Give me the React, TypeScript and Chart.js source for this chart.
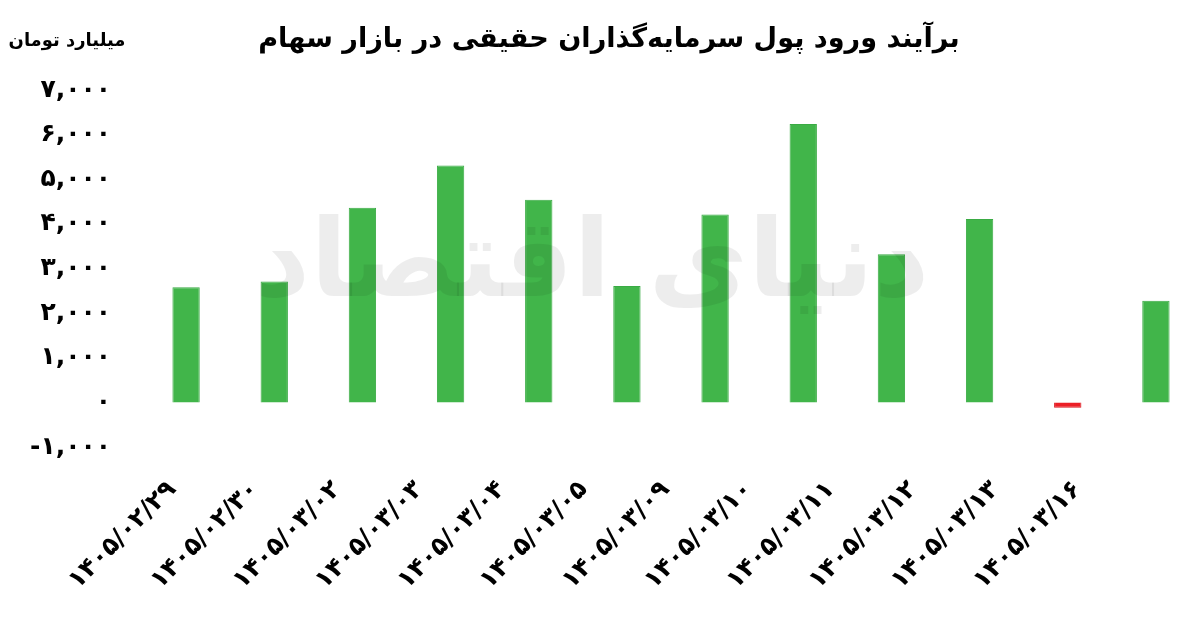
import React, { useEffect, useRef } from "react";
import { Chart, registerables } from "chart.js";

Chart.register(...registerables);

const categories = [
  "۱۴۰۵/۰۲/۲۹",
  "۱۴۰۵/۰۲/۳۰",
  "۱۴۰۵/۰۳/۰۲",
  "۱۴۰۵/۰۳/۰۳",
  "۱۴۰۵/۰۳/۰۴",
  "۱۴۰۵/۰۳/۰۵",
  "۱۴۰۵/۰۳/۰۹",
  "۱۴۰۵/۰۳/۱۰",
  "۱۴۰۵/۰۳/۱۱",
  "۱۴۰۵/۰۳/۱۲",
  "۱۴۰۵/۰۳/۱۳",
  "۱۴۰۵/۰۳/۱۶",
];
const values = [2580, 2710, 4360, 5310, 4540, 2610, 4210, 6240, 3320, 4110, -120, 2280];
const yTicks = [-1000, 0, 1000, 2000, 3000, 4000, 5000, 6000, 7000];

const titleText = "برآیند ورود پول سرمایه‌گذاران حقیقی در بازار سهام";
const unitText = "میلیارد تومان";
const watermarkText = "دنیای اقتصاد";

const FONT = "'DejaVu Sans', sans-serif";
const GREEN = "#41b54a";
const RED = "#ec1f26";

const faDigits = "۰۱۲۳۴۵۶۷۸۹";
function toFa(n: number): string {
  const s = Math.abs(n).toLocaleString("en-US");
  const fa = s.replace(/[0-9]/g, (d) => faDigits[Number(d)]);
  return (n < 0 ? "-" : "") + fa;
}

function fitFont(ctx: CanvasRenderingContext2D, text: string, width: number): number {
  ctx.font = `bold 100px ${FONT}`;
  const w = ctx.measureText(text).width;
  return (100 * width) / w;
}

const decorPlugin = {
  id: "decor",
  afterDatasetsDraw(chart: any) {
    const ctx = chart.ctx;
    ctx.save();
    const size = fitFont(ctx, watermarkText, 675);
    ctx.font = `bold ${size}px ${FONT}`;
    ctx.fillStyle = "rgba(0,0,0,0.07)";
    ctx.textAlign = "center";
    ctx.textBaseline = "middle";
    ctx.fillText(watermarkText, 592, 268);
    ctx.restore();
  },
  afterDraw(chart: any) {
    const ctx = chart.ctx;
    ctx.save();
    ctx.fillStyle = "#000";
    ctx.textAlign = "center";
    ctx.textBaseline = "middle";
    const ts = fitFont(ctx, titleText, 702);
    ctx.font = `bold ${ts}px ${FONT}`;
    ctx.fillText(titleText, 609, 40);
    const us = fitFont(ctx, unitText, 117);
    ctx.font = `bold ${us}px ${FONT}`;
    ctx.fillText(unitText, 67, 41);
    ctx.restore();
  },
};

export default function App() {
  const ref = useRef<HTMLCanvasElement | null>(null);
  useEffect(() => {
    document.body.style.margin = "0";
    const canvas = ref.current;
    if (!canvas) return;
    const chart = new Chart(canvas, {
      type: "bar",
      data: {
        labels: categories,
        datasets: [
          {
            data: values,
            backgroundColor: values.map((v) => (v < 0 ? RED : GREEN)),
            borderColor: values.map((v) => (v < 0 ? "#d81920" : "#3aab44")),
            borderWidth: 1,
            barPercentage: 0.31,
            categoryPercentage: 1,
            xAxisID: "x",
            yAxisID: "y",
          },
        ],
      },
      options: {
        animation: false,
        responsive: false,
        maintainAspectRatio: false,
        layout: { padding: { top: 90, right: 0, bottom: 0, left: 0 } },
        plugins: {
          legend: { display: false },
          title: { display: false },
          tooltip: { enabled: false },
        },
        scales: {
          x: {
            type: "category",
            display: false,
            offset: true,
          },
          x2: {
            type: "linear",
            position: "bottom",
            offset: false,
            min: -0.37,
            max: 12.49,
            grid: { display: false, drawTicks: false, offset: false },
            border: { display: false },
            afterBuildTicks: (scale: any) => {
              scale.ticks = categories.map((_, i) => ({ value: i }));
            },
            afterFit: (scale: any) => {
              scale.height = 174;
            },
            ticks: {
              autoSkip: false,
              minRotation: 45,
              maxRotation: 45,
              padding: 28,
              color: "#000",
              font: { family: FONT, size: 25, weight: "bold" },
              callback: (v: any) => categories[Math.round(Number(v))] ?? "",
            },
          },
          y: {
            min: -1000,
            max: 7000,
            grid: { display: false, drawTicks: false },
            border: { display: false },
            afterBuildTicks: (scale: any) => {
              scale.ticks = yTicks.map((v) => ({ value: v }));
            },
            afterFit: (scale: any) => {
              scale.width = 142;
            },
            ticks: {
              padding: 31,
              color: "#000",
              font: { family: FONT, size: 25, weight: "bold" },
              callback: (v: any) => toFa(Number(v)),
            },
          },
        },
      },
      plugins: [decorPlugin],
    } as any);
    return () => chart.destroy();
  }, []);
  return (
    <div style={{ position: "absolute", left: 0, top: 0, width: 1200, height: 621, background: "#fff" }}>
      <canvas ref={ref} width={1200} height={621} style={{ width: 1200, height: 621 }} />
    </div>
  );
}
